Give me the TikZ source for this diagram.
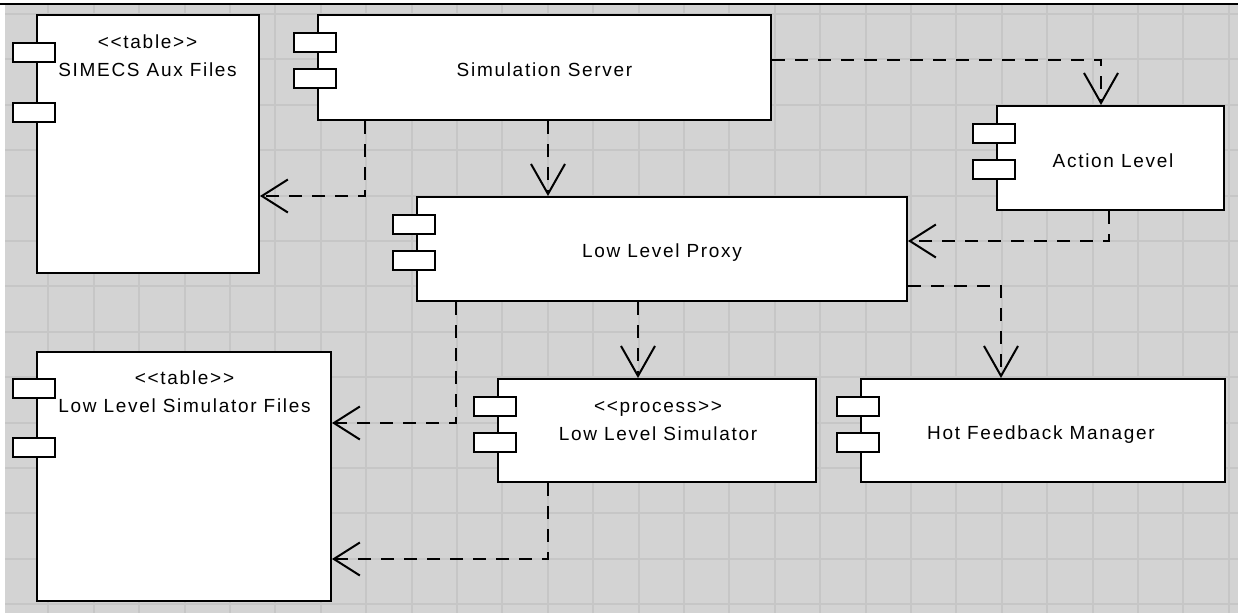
\documentclass[tikz,border=0pt]{standalone}
\usepackage{fontspec}
\newfontfamily\uifont{Liberation Sans}[LetterSpace=9]
\usetikzlibrary{arrows.meta}
\definecolor{bggray}{RGB}{211,211,211}
\definecolor{gridgray}{RGB}{198,198,198}
\newcommand\dlt{<\kern1.7pt<}
\newcommand\dgt{>\kern1.7pt>}
\tikzset{
  comp/.style={draw=black, fill=white, line width=2pt, inner sep=0pt, rectangle},
  port/.style={draw=black, fill=white, line width=2pt, inner sep=0pt, rectangle,
               minimum width=42pt, minimum height=19pt},
  txt/.style={font=\uifont\fontsize{19}{22}\selectfont, inner sep=0pt,
              text height=13.6pt, text depth=0pt},
  dep/.style={draw=black, line width=2pt, dash pattern=on 13pt off 10pt},
  arrV/.style={-{Straight Barb[length=30pt,width=34pt]}},
  arrH/.style={-{Straight Barb[length=26pt,width=33pt]}},
  gridline/.style={draw=gridgray, line width=2pt},
}
\begin{document}
\begin{tikzpicture}[x=1pt,y=-1pt]
\useasboundingbox (0,0) rectangle (1238,613);
% background and grid
\fill[white] (0,0) rectangle (1238,613);
\fill[bggray] (5,5) rectangle (1238,613);
\foreach \k in {1,...,27} \draw[gridline] (3+45.4*\k,5) -- (3+45.4*\k,613);
\foreach \k in {0,...,13} \draw[gridline] (5,14+45.4*\k) -- (1238,14+45.4*\k);
\draw[line width=2pt] (0,4) -- (1238,4);

% components
\node[comp, minimum width=222pt, minimum height=258pt] (simecs) at (148,144) {};
\node[comp, minimum width=453pt, minimum height=105pt] (simserver) at (544.5,67.5) {};
\node[comp, minimum width=227pt, minimum height=104pt] (action) at (1110.5,158) {};
\node[comp, minimum width=490pt, minimum height=104pt] (proxy) at (662,249) {};
\node[comp, minimum width=294pt, minimum height=249pt] (llsf) at (184,476.5) {};
\node[comp, minimum width=318pt, minimum height=103pt] (llsim) at (657,430.5) {};
\node[comp, minimum width=364pt, minimum height=103pt] (hfm) at (1043,430.5) {};

% ports
\node[port] (simecsA) at ([xshift=-2pt,yshift=-38.5pt]simecs.north west) {};
\node[port] (simecsB) at ([xshift=-2pt,yshift=-98pt]simecs.north west) {};
\node[port] (simserverA) at ([xshift=-2pt,yshift=-28pt]simserver.north west) {};
\node[port] (simserverB) at ([xshift=-2pt,yshift=-64pt]simserver.north west) {};
\node[port] (actionA) at ([xshift=-2pt,yshift=-28pt]action.north west) {};
\node[port] (actionB) at ([xshift=-2pt,yshift=-64pt]action.north west) {};
\node[port] (proxyA) at ([xshift=-2pt,yshift=-28pt]proxy.north west) {};
\node[port] (proxyB) at ([xshift=-2pt,yshift=-64pt]proxy.north west) {};
\node[port] (llsfA) at ([xshift=-2pt,yshift=-37.5pt]llsf.north west) {};
\node[port] (llsfB) at ([xshift=-2pt,yshift=-96.5pt]llsf.north west) {};
\node[port] (llsimA) at ([xshift=-2pt,yshift=-28pt]llsim.north west) {};
\node[port] (llsimB) at ([xshift=-2pt,yshift=-64pt]llsim.north west) {};
\node[port] (hfmA) at ([xshift=-2pt,yshift=-28pt]hfm.north west) {};
\node[port] (hfmB) at ([xshift=-2pt,yshift=-64pt]hfm.north west) {};

% texts
\node[txt] (simecsS) at (147.5,42) {\dlt table\dgt};
\node[txt] (simecsT) at (147.5,70) {SIMECS Aux Files};
\node[txt] (simserverT) at (544.5,70) {Simulation Server};
\node[txt] (actionT) at (1113,160.5) {Action Level};
\node[txt] (proxyT) at (662,250.5) {Low Level Proxy};
\node[txt] (llsfS) at (184.5,378) {\dlt table\dgt};
\node[txt] (llsfT) at (184.5,405.5) {Low Level Simulator Files};
\node[txt] (llsimS) at (658,406) {\dlt process\dgt};
\node[txt] (llsimT) at (658,434) {Low Level Simulator};
\node[txt] (hfmT) at (1041,433) {Hot Feedback Manager};

% dependencies
\draw[dep,arrV] ([yshift=7.5pt]simserver.east) -| ([xshift=-9.5pt]action.north);
\draw[dep,arrH] ([xshift=48pt]simserver.south west) |- (simecs.east |- proxy.north);
\draw[dep,arrV] ([xshift=3.5pt]simserver.south) -- ([xshift=-114pt]proxy.north);
\draw[dep,arrH] ([xshift=-1.5pt]action.south) |- ([yshift=8pt]proxy.east);
\draw[dep,arrH] ([xshift=40pt]proxy.south west) |- ([yshift=53.5pt]llsf.east);
\draw[dep,arrV] ([xshift=-24pt]proxy.south) -- ([xshift=-19pt]llsim.north);
\draw[dep,arrV] ([yshift=-37pt]proxy.east) -| ([xshift=-42pt]hfm.north);
\draw[dep,arrH] ([xshift=-109pt]llsim.south) |- ([yshift=-82.5pt]llsf.east);
\end{tikzpicture}
\end{document}
